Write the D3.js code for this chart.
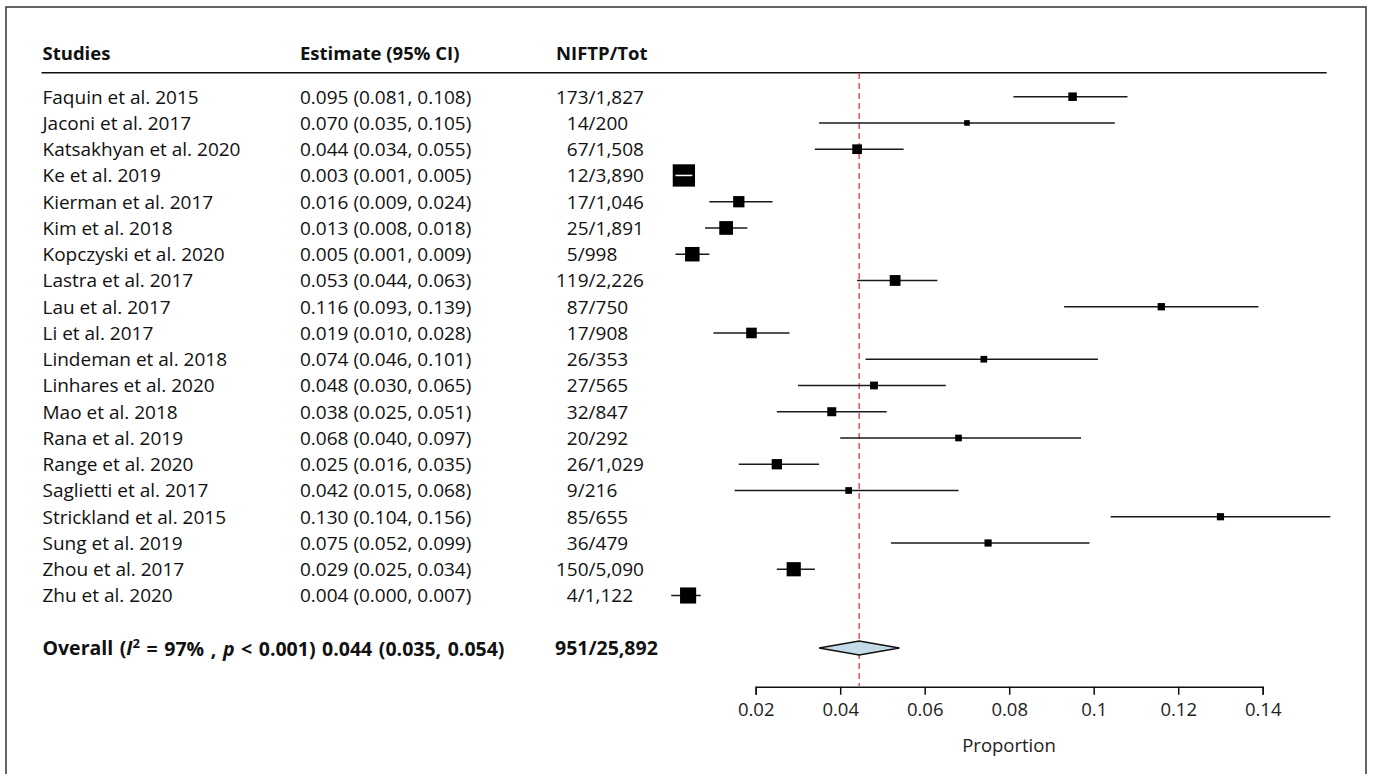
<!DOCTYPE html>
<html>
<head>
<meta charset="utf-8">
<script src="https://cdn.jsdelivr.net/npm/d3@7"></script>
<style>
  body { margin: 0; background: #fff; }
  svg { font-family: "Open Sans", sans-serif; }
</style>
</head>
<body>
<svg id="chart"></svg>
<script>
// study data
var studies = ["Faquin et al. 2015", "Jaconi et al. 2017", "Katsakhyan et al. 2020", "Ke et al. 2019",
  "Kierman et al. 2017", "Kim et al. 2018", "Kopczyski et al. 2020", "Lastra et al. 2017",
  "Lau et al. 2017", "Li et al. 2017", "Lindeman et al. 2018", "Linhares et al. 2020",
  "Mao et al. 2018", "Rana et al. 2019", "Range et al. 2020", "Saglietti et al. 2017",
  "Strickland et al. 2015", "Sung et al. 2019", "Zhou et al. 2017", "Zhu et al. 2020"]
var estimate = [0.095, 0.070, 0.044, 0.003, 0.016, 0.013, 0.005, 0.053, 0.116, 0.019,
  0.074, 0.048, 0.038, 0.068, 0.025, 0.042, 0.130, 0.075, 0.029, 0.004]
var lower = [0.081, 0.035, 0.034, 0.001, 0.009, 0.008, 0.001, 0.044, 0.093, 0.010,
  0.046, 0.030, 0.025, 0.040, 0.016, 0.015, 0.104, 0.052, 0.025, 0.000]
var upper = [0.108, 0.105, 0.055, 0.005, 0.024, 0.018, 0.009, 0.063, 0.139, 0.028,
  0.101, 0.065, 0.051, 0.097, 0.035, 0.068, 0.156, 0.099, 0.034, 0.007]
var events = [173, 14, 67, 12, 17, 25, 5, 119, 87, 17, 26, 27, 32, 20, 26, 9, 85, 36, 150, 4]
var totals = [1827, 200, 1508, 3890, 1046, 1891, 998, 2226, 750, 908, 353, 565, 847, 292, 1029, 216, 655, 479, 5090, 1122]
// relative weights (%)
var weight = [2.95, 1.28, 3.84, 20.3, 5.21, 7.66, 8.58, 4.76, 2.18, 4.59,
  1.83, 2.48, 3.31, 1.83, 4.33, 1.83, 2.11, 2.11, 8.23, 10.58]

var overall = {est: 0.0445, lo: 0.035, hi: 0.054, events: 951, total: 25892}
var tickValues = [0.02, 0.04, 0.06, 0.08, 0.1, 0.12, 0.14]

var screen = {width: 1373, height: 774}

var svg = d3.select("#chart")
  .attr("width", screen.width)
  .attr("height", screen.height)

// frame
svg.append("rect")
  .attr("x", 6).attr("y", 7)
  .attr("width", 1360).attr("height", 820)
  .attr("fill", "none")
  .attr("stroke", "#333")
  .attr("stroke-width", 1.5)

var xScale = d3.scaleLinear()
  .domain([0.02, 0.14])
  .range([755.7, 1262.7])

var yScale = d3.scaleLinear()
  .domain([0, 21])
  .range([96.7, 648])

var boxScale = d3.scaleSqrt()
  .domain([0, 20.3])
  .range([0, 22.3])

var fmt = d3.format(".3f")
var comma = d3.format(",")

// header
var header = svg.append("g").attr("font-weight", "bold").attr("font-size", 18.5).attr("fill", "#111")
header.append("text").attr("x", 42.5).attr("y", 60).text("Studies")
header.append("text").attr("x", 300).attr("y", 60).text("Estimate (95% CI)")
header.append("text").attr("x", 556).attr("y", 60).text("NIFTP/Tot")

svg.append("line")
  .attr("x1", 41.5).attr("x2", 1326.7)
  .attr("y1", 72.7).attr("y2", 72.7)
  .attr("stroke", "#111").attr("stroke-width", 1.5)

var rows = studies.map(function(s, i) {
  return {name: s, est: estimate[i], lo: lower[i], hi: upper[i],
    ev: events[i], tot: totals[i], w: weight[i], i: i}
})

var textG = svg.append("g").attr("font-size", 19).attr("fill", "#111")

textG.selectAll(".name")
  .data(rows).enter().append("text")
  .attr("x", 42.5)
  .attr("y", function(d) { return yScale(d.i) })
  .attr("dy", "0.36em")
  .text(function(d) { return d.name })

textG.selectAll(".ci")
  .data(rows).enter().append("text")
  .attr("x", 300)
  .attr("y", function(d) { return yScale(d.i) })
  .attr("dy", "0.36em")
  .text(function(d) { return fmt(d.est) + " (" + fmt(d.lo) + ", " + fmt(d.hi) + ")" })

textG.selectAll(".count")
  .data(rows).enter().append("text")
  .attr("x", 556)
  .attr("y", function(d) { return yScale(d.i) })
  .attr("dy", "0.36em")
  .text(function(d) { return (d.ev < 100 ? "\u2007" : "") + d.ev + "/" + comma(d.tot) })

// overall row text
var ov = svg.append("text")
  .attr("x", 42.5)
  .attr("y", yScale(21))
  .attr("dy", "0.36em")
  .attr("font-size", 19.5)
  .attr("font-weight", "bold")
  .attr("fill", "#111")
  .attr("word-spacing", 1.5)
ov.append("tspan").text("Overall (")
ov.append("tspan").attr("font-style", "italic").text("I")
ov.append("tspan").attr("font-size", 13).attr("dy", "-0.55em").text("2")
ov.append("tspan").attr("dy", "0.42em").text(" = 97% , ")
ov.append("tspan").attr("font-style", "italic").text("p")
ov.append("tspan").text(" < 0.001) " + fmt(0.044) + " (" + fmt(overall.lo) + ", " + fmt(overall.hi) + ")")

svg.append("text")
  .attr("x", 555)
  .attr("y", yScale(21))
  .attr("dy", "0.36em")
  .attr("font-size", 19.5)
  .attr("font-weight", "bold")
  .attr("fill", "#111")
  .text(overall.events + "/" + comma(overall.total))

// reference line at pooled estimate
svg.append("line")
  .attr("x1", xScale(overall.est)).attr("x2", xScale(overall.est))
  .attr("y1", 73).attr("y2", 686)
  .attr("stroke", "#e05c5c")
  .attr("stroke-width", 1.6)
  .attr("stroke-dasharray", "6,4")

var plot = svg.append("g")

plot.selectAll(".ciline")
  .data(rows).enter().append("line")
  .attr("x1", function(d) { return xScale(d.lo) })
  .attr("x2", function(d) { return xScale(d.hi) })
  .attr("y1", function(d) { return yScale(d.i) })
  .attr("y2", function(d) { return yScale(d.i) })
  .attr("stroke", "#1a1a1a")
  .attr("stroke-width", 1.5)

plot.selectAll(".box")
  .data(rows).enter().append("rect")
  .attr("x", function(d) { return xScale(d.est) - boxScale(d.w) / 2 })
  .attr("y", function(d) { return yScale(d.i) - boxScale(d.w) / 2 })
  .attr("width", function(d) { return boxScale(d.w) })
  .attr("height", function(d) { return boxScale(d.w) })
  .attr("fill", "#000")

// CI hidden inside its box: draw it white
plot.selectAll(".inner")
  .data(rows.filter(function(d) {
    var half = boxScale(d.w) / 2
    return xScale(d.lo) > xScale(d.est) - half && xScale(d.hi) < xScale(d.est) + half
  }))
  .enter().append("line")
  .attr("x1", function(d) { return xScale(d.lo) })
  .attr("x2", function(d) { return xScale(d.hi) })
  .attr("y1", function(d) { return yScale(d.i) })
  .attr("y2", function(d) { return yScale(d.i) })
  .attr("stroke", "#fff")
  .attr("stroke-width", 1.5)

// pooled diamond
var yo = yScale(21)
plot.append("path")
  .attr("d", "M" + xScale(overall.lo) + "," + yo +
    "L" + xScale(overall.est) + "," + (yo - 7) +
    "L" + xScale(overall.hi) + "," + yo +
    "L" + xScale(overall.est) + "," + (yo + 7) + "Z")
  .attr("fill", "#c3dbe7")
  .attr("stroke", "#111")
  .attr("stroke-width", 1.5)

// x axis
var xAxis = d3.axisBottom(xScale)
  .tickValues(tickValues)
  .tickSize(8)
  .tickPadding(8)
  .tickFormat(function(d) { return String(+d.toFixed(2)) })

var axisG = svg.append("g")
  .attr("transform", "translate(0,686.7)")
  .call(xAxis)
axisG.select(".domain").attr("stroke", "#111").attr("stroke-width", 1.5)
axisG.selectAll(".tick line").attr("stroke", "#111").attr("stroke-width", 1.5)
axisG.selectAll(".tick text")
  .attr("font-size", 18.5)
  .attr("font-family", "Open Sans, sans-serif")
  .attr("fill", "#222")

svg.append("text")
  .attr("x", 1009)
  .attr("y", 751.5)
  .attr("text-anchor", "middle")
  .attr("font-size", 18.5)
  .attr("fill", "#222")
  .text("Proportion")
</script>
</body>
</html>
